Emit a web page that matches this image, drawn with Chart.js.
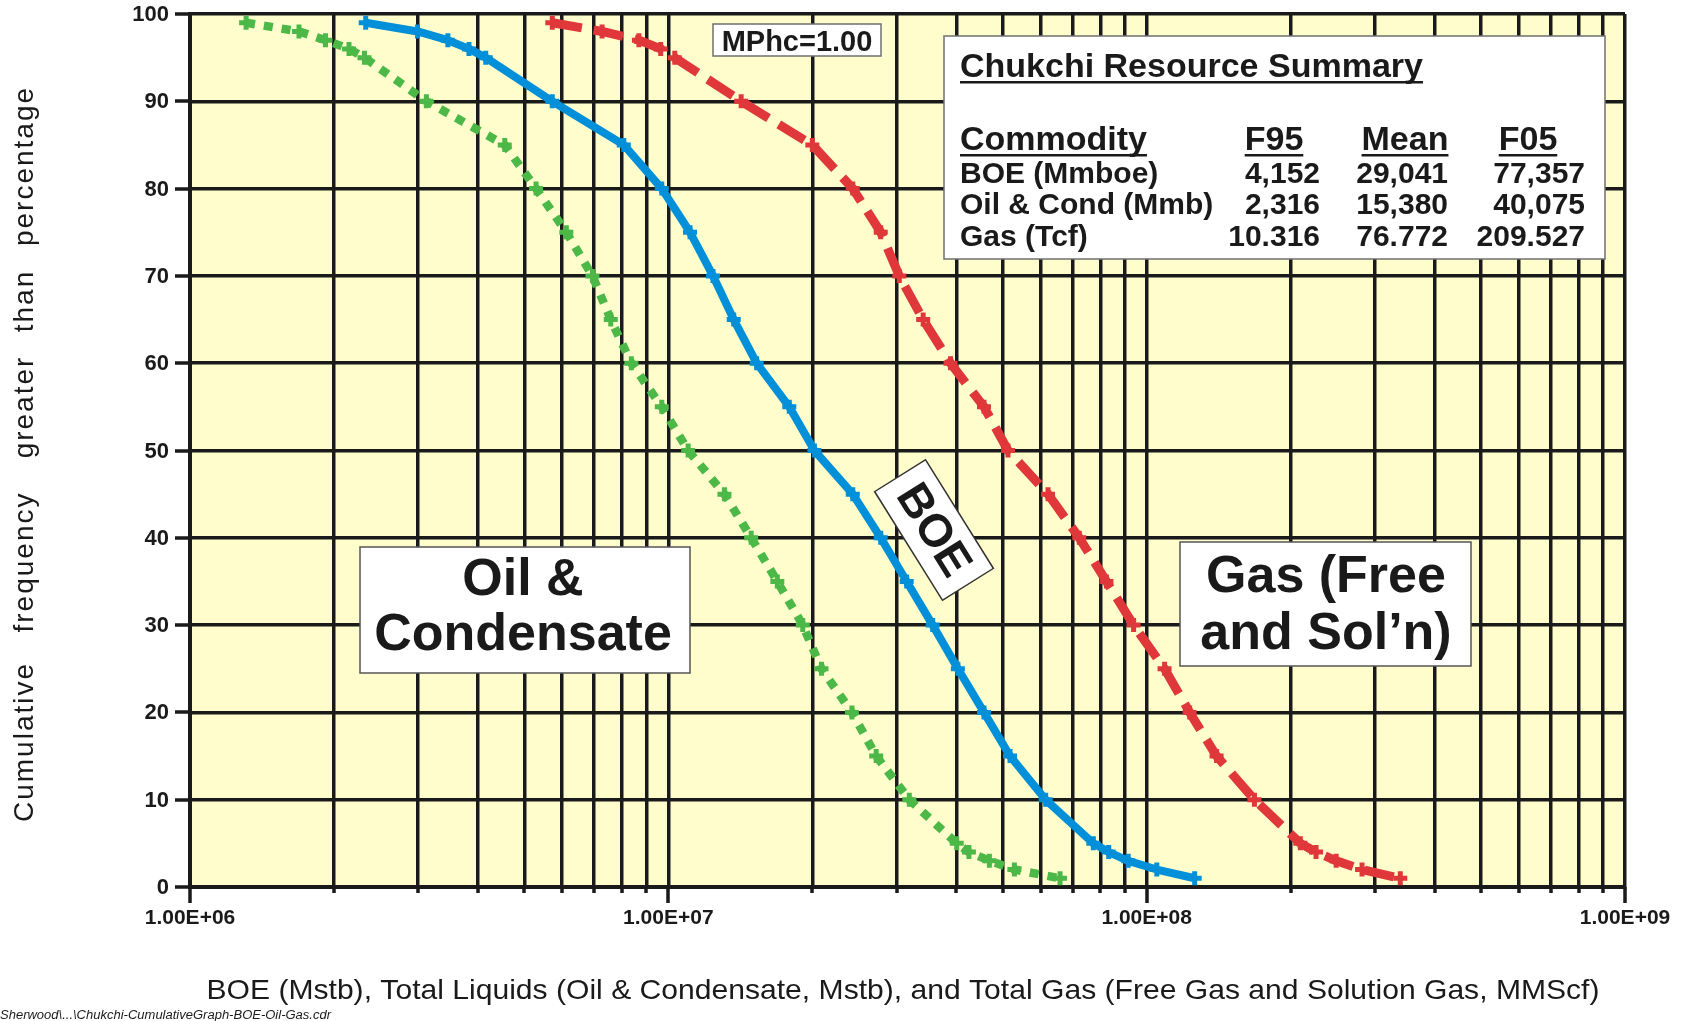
<!DOCTYPE html>
<html>
<head>
<meta charset="utf-8">
<title>Chukchi cumulative frequency</title>
<script src="https://cdn.jsdelivr.net/npm/chart.js@4.4.1/dist/chart.umd.min.js"></script>
<style>
  html, body { margin: 0; padding: 0; background: #ffffff; }
  canvas { display: block; }
</style>
</head>
<body>
<canvas id="chart" width="1701" height="1021"></canvas>
<script>
// Exceedance probability (percent of trials greater than the value)
const exceedancePct = [99, 98, 97, 96, 95, 90, 85, 80, 75, 70, 65, 60, 55, 50, 45, 40, 35, 30, 25, 20, 15, 10, 5, 4, 3, 2, 1];

// Total liquids, Mstb
const oilCondMstb = [1.31e6, 1.69e6, 1.92e6, 2.15e6, 2.316e6, 3.12e6, 4.55e6, 5.29e6, 6.12e6, 6.94e6, 7.58e6, 8.37e6, 9.69e6,
  1.10e7, 1.31e7, 1.49e7, 1.69e7, 1.91e7, 2.09e7, 2.42e7, 2.72e7, 3.19e7, 4.0075e7, 4.25e7, 4.69e7, 5.29e7, 6.59e7];

// Barrels of oil equivalent, Mstb
const boeMstb = [2.33e6, 2.99e6, 3.46e6, 3.83e6, 4.152e6, 5.72e6, 8.07e6, 9.69e6, 1.11e7, 1.24e7, 1.37e7, 1.53e7, 1.79e7,
  2.02e7, 2.43e7, 2.78e7, 3.15e7, 3.57e7, 4.03e7, 4.57e7, 5.18e7, 6.15e7, 7.7357e7, 8.33e7, 9.15e7, 1.05e8, 1.26e8];

// Free + solution gas, MMscf
const gasMMscf = [5.72e6, 7.27e6, 8.68e6, 9.64e6, 1.0316e7, 1.42e7, 2.00e7, 2.43e7, 2.78e7, 3.04e7, 3.41e7, 3.89e7, 4.57e7,
  5.13e7, 6.22e7, 7.23e7, 8.24e7, 9.39e7, 1.09e8, 1.23e8, 1.40e8, 1.68e8, 2.09527e8, 2.26e8, 2.49e8, 2.82e8, 3.39e8];

// Axis ticks
const xDecades = [1e6, 1e7, 1e8, 1e9];
const xTickLabels = ['1.00E+06', '1.00E+07', '1.00E+08', '1.00E+09'];
const xMinorMultipliers = [1, 2, 3, 4, 5, 6, 7, 8, 9];
const yTickValues = [0, 10, 20, 30, 40, 50, 60, 70, 80, 90, 100];

// Summary table
const summaryTitle = 'Chukchi Resource Summary';
const summaryHeaders = ['Commodity', 'F95', 'Mean', 'F05'];
const summaryCommodities = ['BOE (Mmboe)', 'Oil & Cond (Mmb)', 'Gas (Tcf)'];
const summaryF95 = ['4,152', '2,316', '10.316'];
const summaryMean = ['29,041', '15,380', '76.772'];
const summaryF05 = ['77,357', '40,075', '209.527'];

// Text
const xTitle = 'BOE (Mstb), Total Liquids (Oil & Condensate, Mstb), and Total Gas (Free Gas and Solution Gas, MMScf)';
const yTitleWords = ['Cumulative', 'frequency', 'greater', 'than', 'percentage'];
const footerPath = 'Sherwood\\...\\Chukchi-CumulativeGraph-BOE-Oil-Gas.cdr';
const mphcLabel = 'MPhc=1.00';

const FONT = '"Liberation Sans", Arial, Helvetica, sans-serif';
const INK = '#1a1a1a';
const PLOT_BG = '#fffdcc';
const GREEN = '#4cb848';
const BLUE = '#0090da';
const RED = '#e0383a';

const xGridValues = [];
for (let d = 0; d < xDecades.length - 1; d++) {
  for (const m of xMinorMultipliers) xGridValues.push(m * xDecades[d]);
}
xGridValues.push(xDecades[xDecades.length - 1]);

function toPoints(xs) {
  return xs.map((x, i) => ({ x: x, y: exceedancePct[i] }));
}

function box(ctx, x, y, w, h, stroke) {
  ctx.fillStyle = '#ffffff';
  ctx.fillRect(x, y, w, h);
  ctx.strokeStyle = stroke || '#6f6f6f';
  ctx.lineWidth = 1.5;
  ctx.strokeRect(x, y, w, h);
}

function underlined(ctx, text, x, y, align, thickness) {
  ctx.textAlign = align;
  ctx.fillText(text, x, y);
  const w = ctx.measureText(text).width;
  let x0 = x;
  if (align === 'center') x0 = x - w / 2;
  if (align === 'right') x0 = x - w;
  ctx.fillRect(x0, y + 4, w, thickness || 2.5);
}

// text squeezed or stretched horizontally to a given width
function fitText(ctx, text, cx, y, width) {
  const w = ctx.measureText(text).width;
  ctx.save();
  ctx.translate(cx, y);
  ctx.scale(width / w, 1);
  ctx.textAlign = 'center';
  ctx.fillText(text, 0, 0);
  ctx.restore();
}

const decorations = {
  id: 'decorations',
  beforeDraw(chart) {
    const { ctx, chartArea: a } = chart;
    ctx.save();
    ctx.fillStyle = '#ffffff';
    ctx.fillRect(0, 0, chart.width, chart.height);
    ctx.fillStyle = PLOT_BG;
    ctx.fillRect(a.left, a.top, a.right - a.left, a.bottom - a.top);
    ctx.restore();
  },
  afterDraw(chart) {
    const { ctx, chartArea: a } = chart;
    const xs = chart.scales.x;
    const ys = chart.scales.y;
    ctx.save();

    // outside tick marks
    ctx.strokeStyle = INK;
    ctx.lineWidth = 3.5;
    ctx.beginPath();
    for (const v of yTickValues) {
      const py = Math.round(ys.getPixelForValue(v));
      ctx.moveTo(a.left - 15, py);
      ctx.lineTo(a.left, py);
    }
    for (const v of xGridValues) {
      const px = Math.round(xs.getPixelForValue(v));
      const major = xDecades.includes(v);
      ctx.moveTo(px, a.bottom);
      ctx.lineTo(px, a.bottom + (major ? 16 : 6));
    }
    ctx.stroke();

    // tick labels
    ctx.fillStyle = INK;
    ctx.font = 'bold 22px ' + FONT;
    ctx.textAlign = 'right';
    ctx.textBaseline = 'middle';
    for (const v of yTickValues) {
      ctx.fillText(String(v), a.left - 21, ys.getPixelForValue(v) + 1);
    }
    ctx.font = 'bold 21px ' + FONT;
    ctx.textAlign = 'center';
    xDecades.forEach((v, i) => {
      ctx.fillText(xTickLabels[i], xs.getPixelForValue(v), a.bottom + 31);
    });

    // axis titles
    ctx.font = '28px ' + FONT;
    ctx.textBaseline = 'alphabetic';
    fitText(ctx, xTitle, 903, 999, 1393);

    const wordCenters = [742, 562, 407, 301, 166];
    ctx.font = '28px ' + FONT;
    ctx.letterSpacing = '2px';
    ctx.textAlign = 'center';
    ctx.textBaseline = 'middle';
    yTitleWords.forEach((w, i) => {
      ctx.save();
      ctx.translate(25, wordCenters[i]);
      ctx.rotate(-Math.PI / 2);
      ctx.fillText(w, 0, 0);
      ctx.restore();
    });
    ctx.letterSpacing = '0px';

    // footer path
    ctx.font = 'italic 12px ' + FONT;
    ctx.textAlign = 'left';
    ctx.textBaseline = 'alphabetic';
    const fw = ctx.measureText(footerPath).width;
    ctx.save();
    ctx.translate(0, 1019);
    ctx.scale(331 / fw, 1);
    ctx.fillText(footerPath, 0, 0);
    ctx.restore();

    // MPhc tag
    box(ctx, 713, 24, 168, 32);
    ctx.fillStyle = INK;
    ctx.font = 'bold 29px ' + FONT;
    ctx.textAlign = 'center';
    ctx.textBaseline = 'alphabetic';
    ctx.fillText(mphcLabel, 797, 51);

    // summary table
    box(ctx, 944, 36, 661, 223);
    ctx.fillStyle = INK;
    ctx.font = 'bold 34px ' + FONT;
    underlined(ctx, summaryTitle, 960, 77, 'left');
    const colRight = [1320, 1448, 1585];
    const colHead = [1274, 1405, 1528];
    underlined(ctx, summaryHeaders[0], 960, 150, 'left');
    for (let c = 1; c < summaryHeaders.length; c++) {
      underlined(ctx, summaryHeaders[c], colHead[c - 1], 150, 'center');
    }
    ctx.font = 'bold 30px ' + FONT;
    const rowBase = [183, 214, 246];
    summaryCommodities.forEach((name, r) => {
      ctx.textAlign = 'left';
      ctx.fillText(name, 960, rowBase[r]);
      ctx.textAlign = 'right';
      ctx.fillText(summaryF95[r], colRight[0], rowBase[r]);
      ctx.fillText(summaryMean[r], colRight[1], rowBase[r]);
      ctx.fillText(summaryF05[r], colRight[2], rowBase[r]);
    });

    // curve labels
    ctx.font = 'bold 52px ' + FONT;
    ctx.textAlign = 'center';
    box(ctx, 360, 547, 330, 126, '#555555');
    ctx.fillStyle = INK;
    ctx.fillText('Oil &', 523, 595);
    ctx.fillText('Condensate', 523, 650);

    box(ctx, 1180, 542, 291, 124, '#555555');
    ctx.fillStyle = INK;
    ctx.fillText('Gas (Free', 1326, 592);
    ctx.fillText('and Sol\u2019n)', 1326, 649);

    ctx.save();
    ctx.translate(934, 530);
    ctx.rotate(58 * Math.PI / 180);
    box(ctx, -64, -30, 128, 60, '#333333');
    ctx.fillStyle = INK;
    ctx.font = 'bold 46px ' + FONT;
    ctx.textBaseline = 'middle';
    ctx.fillText('BOE', 0, 2);
    ctx.restore();

    ctx.restore();
  }
};

function series(label, xs, color, dash, width) {
  return {
    label: label,
    data: toPoints(xs),
    borderColor: color,
    backgroundColor: color,
    borderWidth: width,
    borderDash: dash,
    borderCapStyle: 'butt',
    borderJoinStyle: 'round',
    tension: 0,
    pointStyle: 'cross',
    pointRadius: 7,
    pointBorderWidth: 5,
    pointBorderColor: color,
    pointBackgroundColor: color
  };
}

new Chart(document.getElementById('chart'), {
  type: 'line',
  data: {
    datasets: [
      series('Oil & Condensate', oilCondMstb, GREEN, [9, 9], 8.5),
      series('BOE', boeMstb, BLUE, [], 8),
      series('Gas (Free and Sol\u2019n)', gasMMscf, RED, [30, 12], 9)
    ]
  },
  plugins: [decorations],
  options: {
    responsive: false,
    animation: false,
    devicePixelRatio: 1,
    layout: { autoPadding: false, padding: { left: 190, right: 76, top: 14, bottom: 134 } },
    plugins: { legend: { display: false }, tooltip: { enabled: false } },
    scales: {
      x: {
        type: 'logarithmic',
        min: xDecades[0],
        max: xDecades[xDecades.length - 1],
        afterBuildTicks(scale) { scale.ticks = xGridValues.map(v => ({ value: v })); },
        afterFit(scale) { scale.height = 0; },
        ticks: { display: false },
        grid: { color: INK, lineWidth: 3.5, drawTicks: false },
        border: { color: INK, width: 4 }
      },
      y: {
        type: 'linear',
        min: 0,
        max: 100,
        afterBuildTicks(scale) { scale.ticks = yTickValues.map(v => ({ value: v })); },
        afterFit(scale) { scale.width = 0; },
        ticks: { display: false },
        grid: { color: INK, lineWidth: 3.5, drawTicks: false },
        border: { color: INK, width: 4 }
      }
    }
  }
});
</script>
</body>
</html>
